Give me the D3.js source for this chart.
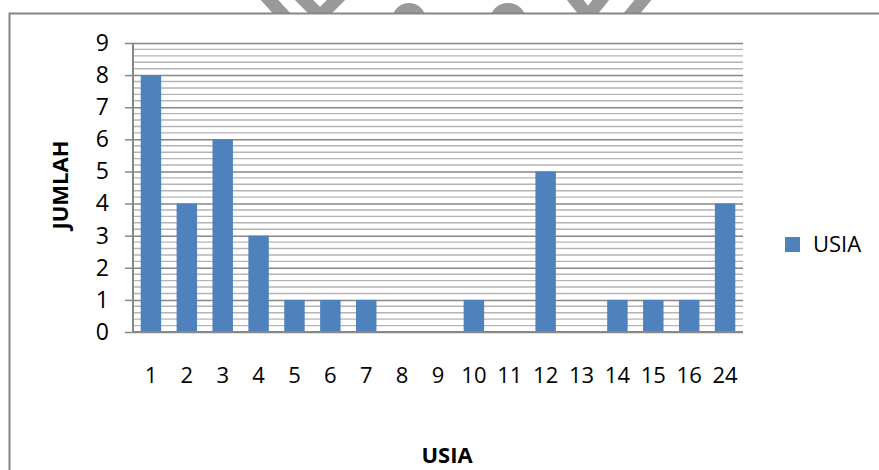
<!DOCTYPE html>
<html>
<head>
<meta charset="utf-8">
<script src="https://cdn.jsdelivr.net/npm/d3@7/dist/d3.min.js"></script>
<style>
  html, body { margin: 0; padding: 0; background: #fff; }
  svg { display: block; font-family: "Open Sans", "Liberation Sans", sans-serif; }
</style>
</head>
<body>
<svg id="chart" width="879" height="470"></svg>
<script>
// Respondent counts per age (USIA) group
const categories = ["1", "2", "3", "4", "5", "6", "7", "8", "9", "10", "11", "12", "13", "14", "15", "16", "24"];
const values = [8, 4, 6, 3, 1, 1, 1, 0, 0, 1, 0, 5, 0, 1, 1, 1, 4];
const yTicks = [0, 1, 2, 3, 4, 5, 6, 7, 8, 9];
const seriesName = "USIA";
const xTitle = "USIA";
const yTitle = "JUMLAH";

const svg = d3.select("#chart");
const W = 879, H = 470;
const plot = { left: 133, right: 743, top: 43, bottom: 332 };

const barColor = "#4F81BD";
const majorGrid = "#878787";
const minorGrid = "#b4b4b4";

// Faint stamp shapes peeking above the chart frame
const stamp = svg.append("g")
  .attr("fill", "none").attr("stroke", "#8e8e8e").attr("stroke-width", 13)
  .attr("stroke-linecap", "round").attr("opacity", 0.9);
svg.append("clipPath").attr("id", "stampClip")
  .append("rect").attr("x", 0).attr("y", 0).attr("width", W).attr("height", 13);
stamp.attr("clip-path", "url(#stampClip)");
stamp.append("path").attr("d", "M264,-6 L286,18");
stamp.append("path").attr("d", "M300,-4 L320,16 L340,-4");
stamp.append("path").attr("d", "M572,-4 L588,16 L604,-4");
stamp.append("path").attr("d", "M648,-6 L628,18");
stamp.append("ellipse").attr("cx", 409).attr("cy", 20).attr("rx", 17).attr("ry", 17)
  .attr("fill", "#8e8e8e").attr("stroke", "none");
stamp.append("ellipse").attr("cx", 508).attr("cy", 20).attr("rx", 18).attr("ry", 17)
  .attr("fill", "#8e8e8e").attr("stroke", "none");

// Chart frame (top and left edges)
svg.append("path")
  .attr("d", `M9.5,${H} L9.5,13.5 L${W},13.5`)
  .attr("fill", "none").attr("stroke", "#868686").attr("stroke-width", 2);

const x = d3.scaleBand()
  .domain(categories)
  .range([plot.left, plot.right])
  .paddingInner(0.43)
  .paddingOuter(0.215);

const y = d3.scaleLinear()
  .domain([0, 9])
  .range([plot.bottom, plot.top]);

// Minor gridlines every 0.2
const minorTicks = d3.range(0, 9.0001, 0.2).filter(v => Math.abs(v - Math.round(v)) > 1e-6);
svg.append("g")
  .selectAll("line").data(minorTicks).join("line")
  .attr("x1", plot.left).attr("x2", plot.right)
  .attr("y1", d => y(d)).attr("y2", d => y(d))
  .attr("stroke", minorGrid).attr("stroke-width", 1.4);

// Major gridlines with the y axis
const yAxis = d3.axisLeft(y)
  .tickValues(yTicks)
  .tickFormat(d3.format("d"))
  .tickSizeInner(-(plot.right - plot.left))
  .tickSizeOuter(0)
  .tickPadding(24);

const gy = svg.append("g")
  .attr("transform", `translate(${plot.left},0)`)
  .call(yAxis);
gy.select(".domain").remove();
gy.selectAll(".tick line")
  .attr("stroke", majorGrid).attr("stroke-width", 1.5);
gy.selectAll(".tick")
  .append("line")
  .attr("x1", -8).attr("x2", 0)
  .attr("stroke", majorGrid).attr("stroke-width", 1.5);
gy.selectAll(".tick text")
  .attr("font-size", 23).attr("fill", "#000")
  .attr("font-family", "'Open Sans', sans-serif");

// Bars
svg.append("g")
  .selectAll("rect").data(values).join("rect")
  .attr("x", (d, i) => x(categories[i]))
  .attr("width", x.bandwidth())
  .attr("y", d => y(d))
  .attr("height", d => y(0) - y(d))
  .attr("fill", barColor);

// Axis lines
svg.append("line")
  .attr("x1", plot.left).attr("x2", plot.left)
  .attr("y1", plot.top).attr("y2", plot.bottom)
  .attr("stroke", majorGrid).attr("stroke-width", 2);

const xAxis = d3.axisBottom(x).tickSize(0).tickPadding(35);
const gx = svg.append("g")
  .attr("transform", `translate(0,${plot.bottom})`)
  .call(xAxis);
gx.select(".domain")
  .attr("d", `M${plot.left},0H${plot.right}`)
  .attr("stroke", majorGrid).attr("stroke-width", 2);
gx.selectAll(".tick text")
  .attr("font-size", 22).attr("fill", "#000")
  .attr("font-family", "'Open Sans', sans-serif");

// Axis titles
svg.append("text")
  .attr("x", 447).attr("y", 463)
  .attr("text-anchor", "middle")
  .attr("font-size", 22).attr("font-weight", "bold")
  .text(xTitle);

svg.append("text")
  .attr("transform", "translate(68,185) rotate(-90)")
  .attr("text-anchor", "middle")
  .attr("font-size", 22).attr("font-weight", "bold")
  .text(yTitle);

// Legend
const legend = svg.append("g").attr("transform", "translate(785,237)");
legend.append("rect")
  .attr("width", 15).attr("height", 15)
  .attr("fill", barColor);
legend.append("text")
  .attr("x", 28).attr("y", 15)
  .attr("font-size", 22).attr("fill", "#000")
  .text(seriesName);
</script>
</body>
</html>
